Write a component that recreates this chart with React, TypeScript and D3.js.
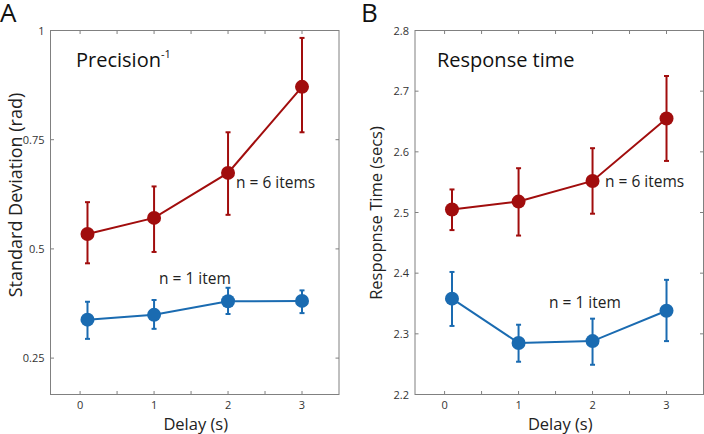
import React from "react";
import * as d3 from "d3";

const delays = [0.1, 1, 2, 3];
const xTicks = [0, 1, 2, 3];
const xMinorTicks = [0.5, 1.5, 2.5];

// Panel A: standard deviation (rad)
const sdSix = [0.534, 0.571, 0.674, 0.871];
const sdSixLo = [0.467, 0.493, 0.578, 0.767];
const sdSixHi = [0.607, 0.643, 0.767, 0.983];
const sdOne = [0.338, 0.349, 0.380, 0.381];
const sdOneLo = [0.294, 0.317, 0.351, 0.353];
const sdOneHi = [0.379, 0.383, 0.411, 0.405];
const sdTicks = [0.25, 0.5, 0.75, 1];
const sdTickLabels = ["0.25", "0.5", "0.75", "1"];

// Panel B: response time (secs)
const rtSix = [2.505, 2.518, 2.552, 2.655];
const rtSixLo = [2.471, 2.462, 2.498, 2.585];
const rtSixHi = [2.538, 2.573, 2.606, 2.725];
const rtOne = [2.358, 2.285, 2.288, 2.338];
const rtOneLo = [2.313, 2.254, 2.249, 2.288];
const rtOneHi = [2.402, 2.315, 2.325, 2.389];
const rtTicks = [2.2, 2.3, 2.4, 2.5, 2.6, 2.7, 2.8];
const rtTickLabels = ["2.2", "2.3", "2.4", "2.5", "2.6", "2.7", "2.8"];

const RED = "#a10d0d";
const BLUE = "#1a6bb1";
const AXIS = "#808080";
const FONT = "'Open Sans', 'Noto Sans', sans-serif";

type Series = { y: number[]; lo: number[]; hi: number[]; color: string };

function Panel(props: {
  left: number;
  right: number;
  top: number;
  bottom: number;
  yDomain: [number, number];
  yTicks: number[];
  yTickLabels: string[];
  series: Series[];
  letter: string;
  letterX: number;
  title: React.ReactNode;
  yLabel: string;
  yLabelX: number;
  yLabelY: number;
  yLabelSize: number;
  labels: { text: string; x: number; y: number }[];
}) {
  const { left, right, top, bottom } = props;
  const x = d3.scaleLinear().domain([-0.4, 3.5]).range([left, right]);
  const y = d3.scaleLinear().domain(props.yDomain).range([bottom, top]);
  const line = d3
    .line<number>()
    .x((_, i) => x(delays[i]))
    .y((d) => y(d));
  const tl = 3.5;
  return (
    <g>
      <text x={props.letterX} y={22} fontSize={26} fontFamily={FONT} fill="#111">
        {props.letter}
      </text>
      <rect x={left} y={top} width={right - left} height={bottom - top} fill="none" stroke={AXIS} strokeWidth={1} />
      {[...xTicks, ...xMinorTicks].map((t, i) => (
        <g key={"xt" + i}>
          <line x1={x(t)} x2={x(t)} y1={bottom} y2={bottom - tl} stroke={AXIS} />
          <line x1={x(t)} x2={x(t)} y1={top} y2={top + tl} stroke={AXIS} />
        </g>
      ))}
      {xTicks.map((t) => (
        <text key={"xl" + t} x={x(t)} y={bottom + 14} fontSize={11} textAnchor="middle" fontFamily={FONT} fill="#333">
          {t}
        </text>
      ))}
      {props.yTicks.map((t, i) => (
        <g key={"yt" + i}>
          <line x1={left} x2={left + tl} y1={y(t)} y2={y(t)} stroke={AXIS} />
          <line x1={right} x2={right - tl} y1={y(t)} y2={y(t)} stroke={AXIS} />
          <text x={left - 6} y={y(t) + 4} fontSize={11} textAnchor="end" fontFamily={FONT} fill="#333">
            {props.yTickLabels[i]}
          </text>
        </g>
      ))}
      <text
        x={(left + right) / 2 + 1}
        y={430}
        fontSize={16.5}
        textAnchor="middle"
        fontFamily={FONT}
        fill="#222"
      >
        Delay (s)
      </text>
      <text
        transform={`translate(${props.yLabelX},${props.yLabelY}) rotate(-90)`}
        fontSize={props.yLabelSize}
        textAnchor="middle"
        fontFamily={FONT}
        fill="#222"
      >
        {props.yLabel}
      </text>
      {props.title}
      {props.series.map((s, si) => (
        <g key={"s" + si}>
          <path d={line(s.y) || ""} fill="none" stroke={s.color} strokeWidth={2} />
          {s.y.map((v, i) => (
            <g key={i}>
              <line x1={x(delays[i])} x2={x(delays[i])} y1={y(s.lo[i])} y2={y(s.hi[i])} stroke={s.color} strokeWidth={2} />
              <line x1={x(delays[i]) - 2.5} x2={x(delays[i]) + 2.5} y1={y(s.lo[i])} y2={y(s.lo[i])} stroke={s.color} strokeWidth={2} />
              <line x1={x(delays[i]) - 2.5} x2={x(delays[i]) + 2.5} y1={y(s.hi[i])} y2={y(s.hi[i])} stroke={s.color} strokeWidth={2} />
              <circle cx={x(delays[i])} cy={y(v)} r={7} fill={s.color} />
            </g>
          ))}
        </g>
      ))}
      {props.labels.map((l, i) => (
        <text key={"l" + i} x={l.x} y={l.y} fontSize={15.5} fontFamily={FONT} fill="#222">
          {l.text}
        </text>
      ))}
    </g>
  );
}

export default function App() {
  return (
    <svg width={704} height={434} style={{ position: "absolute", left: 0, top: 0, background: "#fff" }}>
      <Panel
        left={50.5}
        right={339}
        top={30.5}
        bottom={394.5}
        yDomain={[1 / 6, 1]}
        yTicks={sdTicks}
        yTickLabels={sdTickLabels}
        series={[
          { y: sdSix, lo: sdSixLo, hi: sdSixHi, color: RED },
          { y: sdOne, lo: sdOneLo, hi: sdOneHi, color: BLUE },
        ]}
        letter="A"
        letterX={0}
        title={
          <text x={76} y={67} fontSize={20} fontFamily={FONT} fill="#111">
            Precision
            <tspan fontSize={11} dy={-9}>-1</tspan>
          </text>
        }
        yLabel="Standard Deviation (rad)"
        yLabelX={22}
        yLabelY={195}
        yLabelSize={18}
        labels={[
          { text: "n = 6 items", x: 236, y: 188 },
          { text: "n = 1 item", x: 159, y: 284 },
        ]}
      />
      <Panel
        left={415}
        right={703.5}
        top={30.5}
        bottom={394.5}
        yDomain={[2.2, 2.8]}
        yTicks={rtTicks}
        yTickLabels={rtTickLabels}
        series={[
          { y: rtSix, lo: rtSixLo, hi: rtSixHi, color: RED },
          { y: rtOne, lo: rtOneLo, hi: rtOneHi, color: BLUE },
        ]}
        letter="B"
        letterX={361}
        title={
          <text x={437} y={67} fontSize={20} fontFamily={FONT} fill="#111">
            Response time
          </text>
        }
        yLabel="Respopnse Time (secs)"
        yLabelX={382}
        yLabelY={213}
        yLabelSize={16.5}
        labels={[
          { text: "n = 6 items", x: 605, y: 187 },
          { text: "n = 1 item", x: 549, y: 308 },
        ]}
      />
    </svg>
  );
}
